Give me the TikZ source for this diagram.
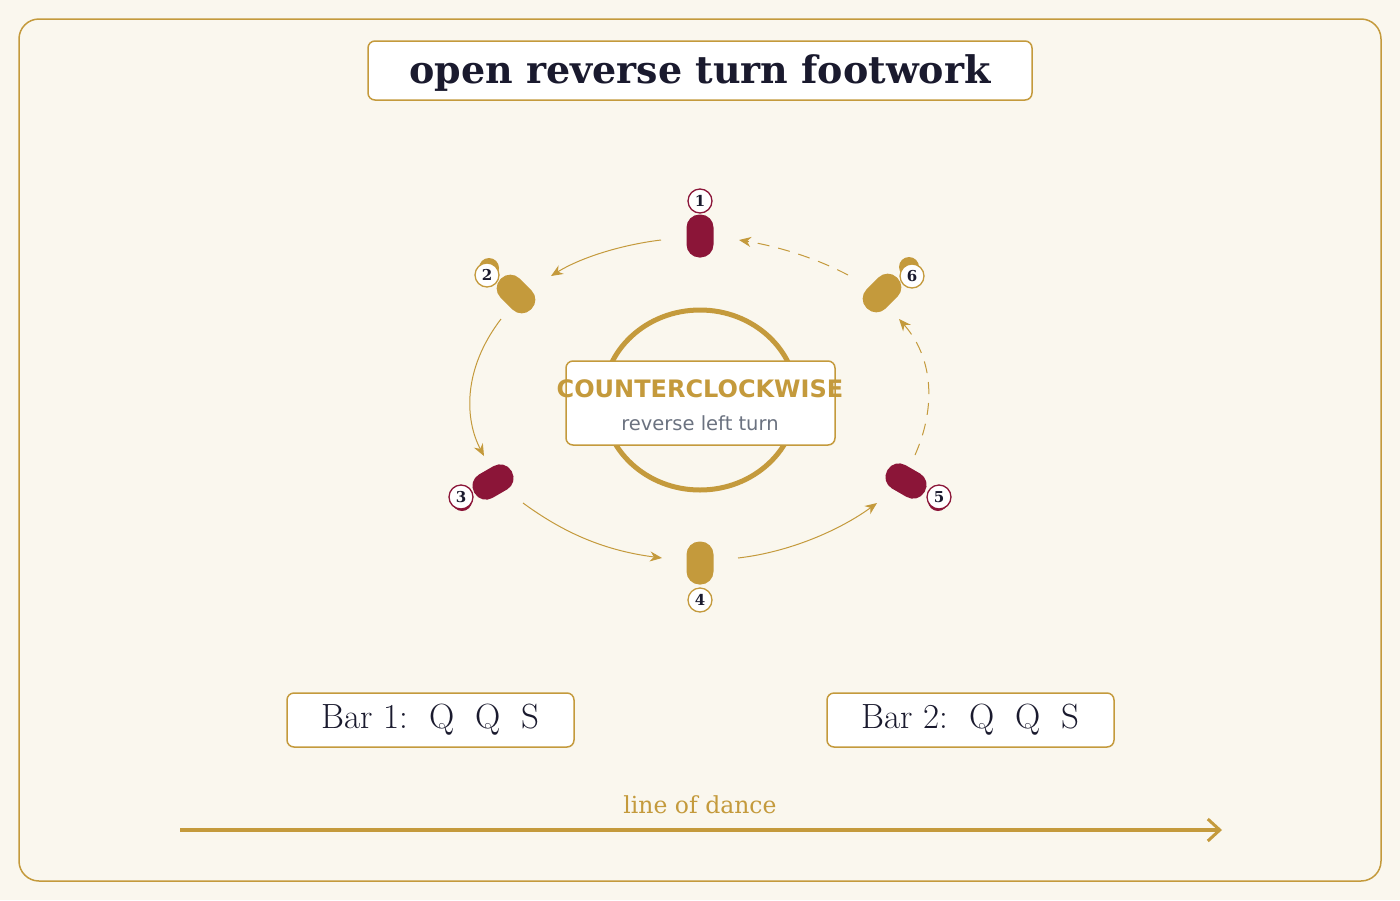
\documentclass[tikz,border=0pt]{standalone}
\usepackage{fontspec}
\setsansfont{DejaVu Sans}
\newfontfamily\dserif{DejaVu Serif}
\usetikzlibrary{arrows.meta}
\definecolor{bg}{HTML}{FAF7EE}
\definecolor{gold}{HTML}{C49A3C}
\definecolor{crim}{HTML}{8B1538}
\definecolor{ink}{HTML}{1A1A2E}
\definecolor{gr}{HTML}{6B7280}
\begin{document}
\begin{tikzpicture}[x=1pt,y=-1pt,
 box/.style={draw=gold,line width=1.5pt,fill=white,rounded corners=7pt},
 foot/.style={rounded corners=13pt,minimum width=27pt,minimum height=43pt,inner sep=0pt},
 num/.style={circle,fill=white,line width=1.3pt,minimum size=24pt,inner sep=0pt,font=\dserif\bfseries\fontsize{15}{15}\selectfont,text=ink},
 path/.style={draw=gold,line width=1pt,-{Stealth[length=12pt,width=10pt]}},
 ghost/.style={circle,minimum size=20pt,inner sep=0pt}]
\fill[bg] (0,0) rectangle (1400,900);
\draw[gold,line width=1.5pt,rounded corners=20pt] (19,19) rectangle (1381,881);
\node[box,minimum width=664pt,minimum height=59pt] (title) at (700,70.5) {};
\node[font=\dserif\bfseries\fontsize{38}{38}\selectfont,text=ink] (tt) at (700,73) {open reverse turn footwork};
% center
\draw[gold,line width=5pt] (700,400) ellipse (97 and 90);
\node[box,minimum width=269pt,minimum height=84pt] (cbox) at (700.5,403) {};
\node[font=\sffamily\bfseries\fontsize{24}{24}\selectfont,text=gold] (ccw) at (700,389) {COUNTERCLOCKWISE};
\node[font=\sffamily\fontsize{19.5}{19.5}\selectfont,text=gr] (rlt) at (700,423) {reverse left turn};
% ghosts
\node[ghost,fill=gold] (g2) at (489,268) {};
\node[ghost,fill=gold] (g6) at (909,267) {};
\node[ghost,fill=crim] (g3) at (462,501) {};
\node[ghost,fill=crim] (g5) at (938,501) {};
% feet
\node[foot,fill=crim] (f1) at (700,236) {};
\node[foot,fill=gold,rotate=45] (f2) at (516,294) {};
\node[foot,fill=crim,rotate=-60] (f3) at (493,482) {};
\node[foot,fill=gold] (f4) at (700,563) {};
\node[foot,fill=crim,rotate=60] (f5) at (906,481) {};
\node[foot,fill=gold,rotate=-45] (f6) at (882,293) {};
% numbers
\node[num,draw=crim] (n1) at (700,201) {1};
\node[num,draw=gold] (n2) at (487,275) {2};
\node[num,draw=crim] (n3) at (461,497) {3};
\node[num,draw=gold] (n4) at (700,600) {4};
\node[num,draw=crim] (n5) at (939,497) {5};
\node[num,draw=gold] (n6) at (912,276) {6};
% arrows
\coordinate (a1) at (661,240); \coordinate (b1) at (551,276);
\coordinate (a2) at (501,319); \coordinate (b2) at (484,456);
\coordinate (a3) at (523,503); \coordinate (b3) at (662,558);
\coordinate (a4) at (738,558); \coordinate (b4) at (877,503);
\coordinate (a5) at (915,455); \coordinate (b5) at (899,319);
\coordinate (a6) at (848,275); \coordinate (b6) at (739,240);
\draw[path] (a1) .. controls (620,245) and (580,258) .. (b1);
\draw[path] (a2) .. controls (462,370) and (465,420) .. (b2);
\draw[path] (a3) .. controls (560,530) and (600,550) .. (b3);
\draw[path] (a4) .. controls (790,552) and (840,530) .. (b4);
\draw[path,dash pattern=on 12pt off 9pt] (a5) .. controls (935,410) and (935,360) .. (b5);
\draw[path,dash pattern=on 12pt off 9pt] (a6) .. controls (810,255) and (770,245) .. (b6);
% bars
\node[box,minimum width=287pt,minimum height=54pt,font=\fontsize{35}{35}\selectfont,text=ink] (bar1) at (430.5,720) {Bar 1:\ \ Q\ \ Q\ \ S};
\node[box,minimum width=287pt,minimum height=54pt,font=\fontsize{35}{35}\selectfont,text=ink] (bar2) at (970.5,720) {Bar 2:\ \ Q\ \ Q\ \ S};
% line of dance
\node[font=\dserif\fontsize{23.5}{23.5}\selectfont,text=gold] (lod) at (700,805) {line of dance};
\coordinate (l1) at (180,830); \coordinate (l2) at (1222,830);
\draw[gold,line width=4pt,-{Straight Barb[length=12pt,width=22pt,line width=3pt]}] (l1) -- (l2);
\end{tikzpicture}
\end{document}
